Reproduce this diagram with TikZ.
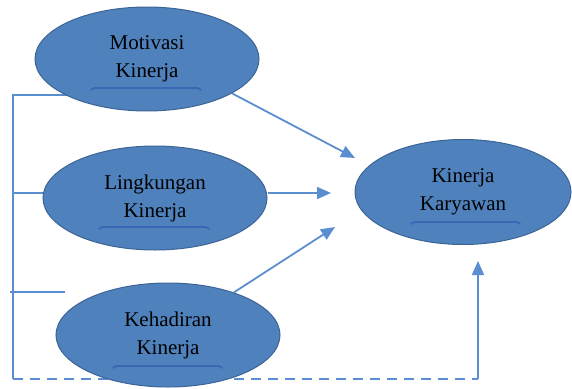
\documentclass[tikz,border=0pt]{standalone}
\usepackage{fontspec}
\setmainfont{Liberation Serif}
\usetikzlibrary{shapes.geometric,arrows.meta}
\pgfdeclarelayer{bg}
\pgfsetlayers{bg,main}
\definecolor{efill}{HTML}{4F81BD}
\definecolor{edraw}{HTML}{3C6494}
\definecolor{lcol}{HTML}{5B8ED0}
\definecolor{ucol}{HTML}{3A66B5}
\begin{document}
\begin{tikzpicture}[x=1pt,y=-1pt,
 var/.style={ellipse, fill=efill, draw=edraw, line width=1pt, minimum width=224pt, minimum height=104pt, inner sep=0pt, align=center, font=\fontsize{21}{28}\selectfont},
 link/.style={draw=lcol, line width=1.8pt},
 arr/.style={link, -{Triangle[length=14pt,width=12pt]}},
 uline/.style={draw=ucol, line width=1.8pt, line cap=round}]
\useasboundingbox (0,0) rectangle (572,388);
\node[var] (mot) at (147,59) {Motivasi\\Kinerja};
\node[var] (ling) at (155,198) {Lingkungan\\Kinerja};
\node[var] (keh) at (168,335) {Kehadiran\\Kinerja};
\node[var, minimum width=216pt, minimum height=105pt] (kar) at (463,192) {Kinerja\\Karyawan};
% free ends
\coordinate (t1) at (355,158);
\coordinate (t2) at (331,193);
\coordinate (t3) at (335,227);
\coordinate (t4) at (478,261);
\coordinate (c1) at (13,95);
\coordinate (c2) at (13,193);
\coordinate (c3a) at (10,292);
\coordinate (c3b) at (65,292);
\coordinate (c4) at (13,379);
\coordinate (c5) at (478,379);
% underlines
\draw[uline] (91,90) .. controls (93,88) .. (99,88) -- (193,88) .. controls (199,88) .. (201,90);
\draw[uline] (99,229) .. controls (101,227) .. (107,227) -- (201,227) .. controls (207,227) .. (209,229);
\draw[uline] (113,368) .. controls (115,366) .. (121,366) -- (214,366) .. controls (220,366) .. (222,368);
\draw[uline] (411,224) .. controls (413,222) .. (419,222) -- (512,222) .. controls (518,222) .. (520,224);
% connectors
\draw[arr] (mot.-22) -- (t1);
\draw[arr] (ling.east |- t2) -- (t2);
\draw[arr] (keh) -- (t3);
\begin{pgfonlayer}{bg}
\draw[link] (mot.center |- c1) -- (c1) -- (c4);
\draw[link] (c2) -- (ling.center |- c2);
\draw[link] (c3a) -- (c3b);
\draw[link, dash pattern=on 10pt off 7pt] (c4) -- (c5);
\end{pgfonlayer}
\draw[arr] (c5) -- (t4);
\end{tikzpicture}
\end{document}
